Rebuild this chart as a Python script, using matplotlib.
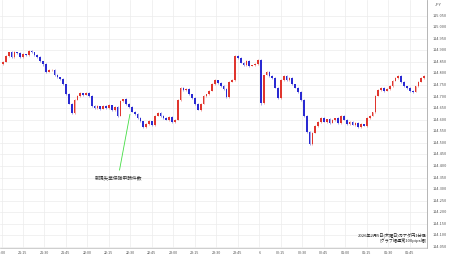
import numpy as np
import matplotlib
matplotlib.use('Agg')
import matplotlib.pyplot as plt
from matplotlib.transforms import Bbox, TransformedBbox, blended_transform_factory

plt.rcParams['font.family'] = ['Noto Sans CJK JP', 'DejaVu Sans']

# 2-minute candles from 21:00
closes = [114.849, 114.875, 114.892, 114.870, 114.892, 114.888, 114.870, 114.883, 114.879, 114.897,
          114.892, 114.879, 114.870, 114.853, 114.840, 114.806, 114.815, 114.815, 114.793, 114.784,
          114.776, 114.754, 114.711, 114.668, 114.629, 114.685, 114.703, 114.715, 114.707, 114.715,
          114.703, 114.659, 114.650, 114.659, 114.646, 114.659, 114.650, 114.663, 114.642, 114.655,
          114.616, 114.681, 114.689, 114.668, 114.655, 114.633, 114.625, 114.607, 114.594, 114.568,
          114.581, 114.594, 114.577, 114.616, 114.629, 114.616, 114.607, 114.599, 114.612, 114.590,
          114.599, 114.685, 114.737, 114.728, 114.733, 114.711, 114.694, 114.668, 114.642, 114.668,
          114.703, 114.711, 114.724, 114.754, 114.771, 114.758, 114.745, 114.733, 114.698, 114.763,
          114.771, 114.875, 114.866, 114.845, 114.836, 114.853, 114.832, 114.836, 114.840, 114.858,
          114.670, 114.793, 114.806, 114.789, 114.780, 114.737, 114.694, 114.771, 114.789, 114.771,
          114.780, 114.754, 114.737, 114.720, 114.685, 114.616, 114.547, 114.495, 114.543, 114.573,
          114.590, 114.607, 114.590, 114.603, 114.586, 114.599, 114.607, 114.586, 114.616, 114.599,
          114.581, 114.590, 114.577, 114.586, 114.568, 114.581, 114.573, 114.607, 114.616, 114.633,
          114.703, 114.728, 114.737, 114.724, 114.733, 114.745, 114.767, 114.780, 114.789, 114.763,
          114.745, 114.737, 114.724, 114.720, 114.745, 114.763, 114.780, 114.789]
first_open = 114.842
# wick lengths in 0.001 yen
hi_w = [3, 4, 2, 5, 3, 2, 4, 3, 2, 5, 3, 2, 4, 3, 2, 6, 3, 2, 3, 4,
        2, 3, 2, 3, 4, 3, 5, 3, 2, 4, 3, 2, 3, 5, 2, 3, 4, 3, 2, 3,
        6, 4, 2, 3, 2, 3, 4, 2, 3, 2, 3, 4, 2, 5, 3, 2, 3, 4, 3, 2,
        3, 4, 3, 2, 5, 3, 2, 4, 3, 2, 3, 2, 4, 3, 5, 2, 3, 4, 3, 2,
        3, 5, 4, 3, 2, 4, 3, 2, 3, 4, 3, 2, 5, 3, 2, 4, 3, 5, 2, 3,
        4, 3, 2, 3, 2, 3, 4, 3, 5, 2, 3, 4, 3, 2, 6, 3, 2, 4, 3, 5,
        2, 3, 4, 3, 2, 3, 2, 4, 3, 2, 3, 4, 3, 5, 2, 3, 4, 3, 2, 4,
        3, 2, 5, 3, 2, 3, 4, 3]
lo_w = [4, 2, 3, 3, 2, 4, 3, 2, 4, 3, 2, 3, 4, 5, 9, 3, 2, 4, 3, 2,
        3, 4, 3, 2, 4, 3, 2, 3, 4, 2, 3, 4, 2, 3, 4, 2, 3, 2, 4, 3,
        5, 2, 3, 4, 3, 2, 3, 4, 3, 5, 3, 2, 4, 3, 2, 3, 4, 2, 3, 4,
        3, 2, 3, 4, 2, 3, 4, 3, 2, 3, 2, 4, 3, 2, 3, 4, 2, 3, 4, 3,
        2, 3, 4, 2, 3, 4, 3, 2, 3, 2, 8, 3, 2, 4, 3, 2, 3, 4, 2, 3,
        4, 3, 2, 3, 4, 5, 3, 4, 3, 2, 4, 3, 2, 3, 4, 2, 3, 4, 3, 2,
        3, 4, 2, 3, 4, 3, 2, 3, 4, 2, 3, 2, 4, 3, 2, 3, 4, 2, 3, 4,
        2, 3, 4, 3, 2, 3, 2, 3]

y_ticks = [114.05 + 0.05 * k for k in range(21)]
x_labels = ['21:00', '21:15', '21:30', '21:45', '22:00', '22:15', '22:30', '22:45',
            '23:00', '23:15', '23:30', '23:45', '6', '00:15', '00:30', '00:45',
            '01:00', '01:15', '01:30', '01:45', '02:00']
note_text = '新規失業保険申請件数'
title_lines = ['2026年2月5日(木曜日)カナダ円1分足', '[グラフ幅通常100pips幅]']

closes = np.array(closes)
opens = np.concatenate([[first_open], closes[:-1]])
highs = np.maximum(opens, closes) + np.array(hi_w) * 0.001
lows = np.minimum(opens, closes) - np.array(lo_w) * 0.001
t = np.arange(len(closes)) * 2 + 1

W, H = 450, 258
fig = plt.figure(figsize=(W / 100, H / 100), dpi=100)
ax = fig.add_axes([0, 10 / H, 427 / W, 248 / H])
ax.set_xlim(-1.05, 297)
ax.set_ylim(114.0456, 115.117)

for yv in y_ticks:
    ax.axhline(yv, color='#ececec', lw=0.5, zorder=0)
for k in range(len(x_labels)):
    ax.axvline(k * 15, color='#ececec', lw=0.5, zorder=0)

up = closes >= opens
col = np.where(up, '#e0362e', '#2a2ad2')
ax.vlines(t, lows, highs, colors=col, lw=0.5, alpha=0.6, zorder=2)
body = np.maximum(np.abs(closes - opens), 0.0012)
ax.bar(t, body, bottom=np.minimum(opens, closes), width=1.2, color=col, lw=0, zorder=3)

# annotation
ax.annotate('', xy=(90, 114.635), xytext=(82, 114.37),
            arrowprops=dict(arrowstyle='-', color='#44dd44', lw=0.6))
ax.text(82, 114.35, note_text, fontsize=3.4, color='#333333', ha='center', va='center')

ax.text(1.0, 0.045, title_lines[0], transform=ax.transAxes, fontsize=3.0,
        color='#222222', ha='right', va='bottom')
ax.text(1.0, 0.02, title_lines[1], transform=ax.transAxes, fontsize=3.0,
        color='#222222', ha='right', va='bottom')

ax.set_xticks([])
ax.set_yticks([])
for s in ['top', 'left']:
    ax.spines[s].set_visible(False)
ax.spines['right'].set_color('#aaaaaa')
ax.spines['right'].set_linewidth(0.6)
ax.spines['bottom'].set_color('#bbbbbb')
ax.spines['bottom'].set_linewidth(0.5)

# right price labels
for yv in y_ticks:
    ax.text(1.0 + 6 / 427, yv, '%.3f' % yv, transform=blended_transform_factory(ax.transAxes, ax.transData),
            fontsize=2.8, color='#555555', ha='left', va='center', clip_on=False)
ax.text(1.0 + 8 / 427, 1 - 5 / 248, 'JPY', transform=ax.transAxes, fontsize=2.8,
        color='#555555', ha='left', va='center')

# time labels, clipped at the price panel
clip = TransformedBbox(Bbox([[0, 0], [427 / W, 1]]), fig.transFigure)
tr = blended_transform_factory(ax.transData, fig.transFigure)
for k, lab in enumerate(x_labels):
    txt = fig.text(k * 15, 1 - 253 / H, lab, transform=tr, fontsize=2.7, color='#555555',
                   ha='center', va='center')
    txt.set_clip_box(clip)
    txt.set_clip_on(True)

fig.savefig('out.png', dpi=100, facecolor='white')
